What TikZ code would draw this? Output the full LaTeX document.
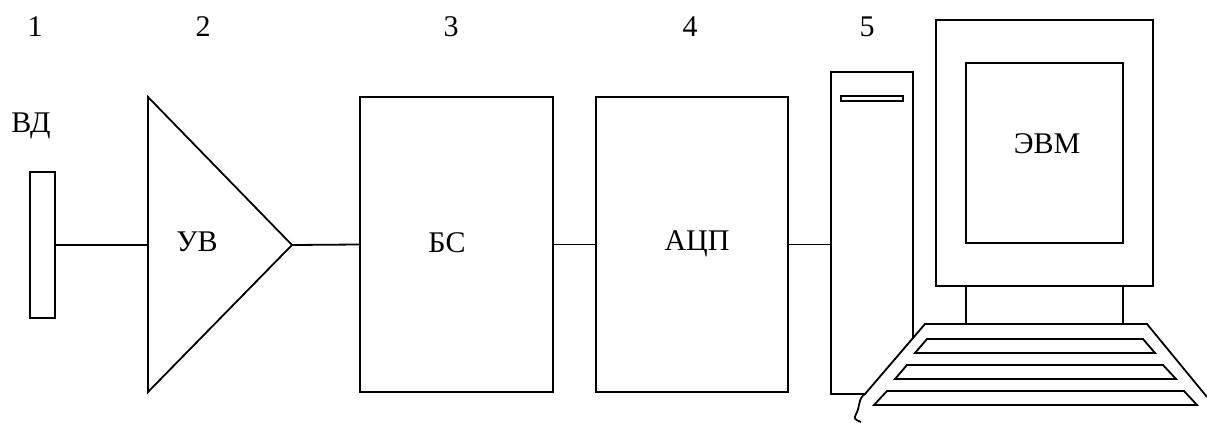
\documentclass[tikz,border=0pt]{standalone}
\usepackage{fontspec}
\setmainfont{Liberation Serif}
\usetikzlibrary{positioning}

\begin{document}
\begin{tikzpicture}[x=0.5pt,y=-0.5pt,line width=0.9pt,
    block/.style={draw,rectangle,inner sep=0pt},
    lbl/.style={anchor=base,inner sep=0pt,font=\fontsize{15}{17}\selectfont}]
                \useasboundingbox (0,0) rectangle (1207,423);

                % Define the coordinates of the amplifier
                \coordinate (ampin) at (148,245);
                \coordinate (ampout) at (292,245);

                % Draw the blocks
                \node[block,minimum width=12.5pt,minimum height=73pt] (vd) at (42.5,245) {};
                \draw (148,97) -- (148,392) -- (ampout) -- cycle;
                \node[block,minimum width=96.5pt,minimum height=147.5pt] (bs) at (456.5,244.5) {};
                \node[block,minimum width=96pt,minimum height=147.5pt] (acp) at (692,244.5) {};
                \node[block,minimum width=41pt,minimum height=161pt] (pc) at (872,233) {};
                \draw (841,96) rectangle (903,101);

                % Draw the lines
                \draw (vd.east) -- (ampin);
                \draw (ampout) -- (bs.west);
                \draw (bs.east) -- (acp.west);
                \draw (acp.east) -- (acp.east -| pc.west);

                % Monitor and stand
                \node[block,minimum width=108.5pt,minimum height=133pt] (monitor) at (1044.5,153) {};
                \node[block,minimum width=78.5pt,minimum height=90pt] (screen) at (1044.5,153) {};
                \draw (966,286) -- (966,324);
                \draw (1123,286) -- (1123,324);

                % Keyboard with cable
                \fill[white] (925,324) -- (1147,324) -- (1207,397) -- (1207,423) -- (858,423) -- (865,394) -- cycle;
                \draw (1207,397) -- (1147,324) -- (925,324) -- (865,394)
                      .. controls (858,398) and (860,408) .. (856,414)
                      .. controls (854,419) .. (861,422);
                \foreach \ty/\tl/\tr/\bl/\br in {339/927/1143/915/1155, 365/907/1163/895/1176, 391/887/1184/874/1197}
                    \draw (\tl,\ty) -- (\tr,\ty) -- (\br,\ty+14) -- (\bl,\ty+14) -- cycle;

                % Numbers and block labels
                \foreach \name/\x/\y/\txt in {n1/35/37/1, n2/203/37/2, n3/451/37/3, n4/690/37/4, n5/867/37/5,
                        vdlabel/31/132/ВД, uvlabel/197/251/УВ, bslabel/447/252/БС, acplabel/697/250/АЦП, evmlabel/1047/153/ЭВМ}
                    \node[lbl] (\name) at (\x,\y) {\txt};

            \end{tikzpicture}
\end{document}
